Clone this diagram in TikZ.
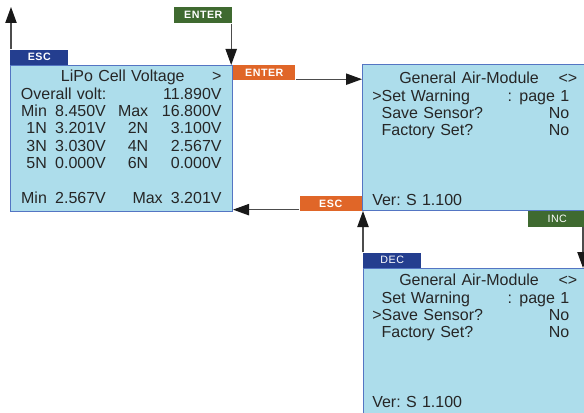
\documentclass[tikz,border=0pt]{standalone}
\usepackage{fontspec}
\setmainfont{Liberation Sans}
\newfontfamily\keyfont[LetterSpace=5]{Liberation Sans}
\usetikzlibrary{positioning,arrows.meta}
\definecolor{lcd}{RGB}{173,221,235}
\definecolor{lcdedge}{RGB}{84,117,195}
\definecolor{keyblue}{RGB}{36,62,143}
\definecolor{keygreen}{RGB}{63,106,48}
\definecolor{keyorange}{RGB}{224,102,40}
\newcommand{\nosel}{\hphantom{>}}
\newcommand{\rpad}{\kern6pt\null}
\newcommand{\cellrow}[4]{\makebox[19.5pt][r]{#1}\hspace{6.2pt}\makebox[46.3pt][l]{#2}\makebox[23.5pt][r]{#3}\hfill#4}

\begin{document}
\begin{tikzpicture}[x=0.75pt,y=-0.75pt]
        \tikzset{screen/.style = {draw=lcdedge, line width=.75pt, fill=lcd, anchor=north west, inner sep=0pt},
                 screentext/.style = {anchor=north west, inner sep=0pt, align=left, text=black!85,
                                      font=\fontsize{12}{13}\selectfont\parindent0pt\frenchspacing},
                 key/.style = {inner sep=0pt, text=white, font=\keyfont\fontsize{8}{9}\selectfont},
                 boldkey/.style = {key, font=\keyfont\bfseries\fontsize{8}{9}\selectfont},
                 arr/.style = {draw=black!70, line width=.8pt, -{Triangle[length=12pt,width=8.5pt,color=black!90]}}}
        \useasboundingbox (0,0) rectangle (584,413);
        \clip (0,0) rectangle (584,413);
        %\draw[help lines, step=10] (0,0) grid (584,413);
        \node[screen, minimum width=166.5pt, minimum height=109.5pt] (lipo) at (10,65) {};
        \node[screen, minimum width=168pt, minimum height=109.5pt] (menu) at (362,64) {};
        \node[screen, minimum width=167.25pt, minimum height=121.5pt] (lower) at (363,268) {};
        \node[screentext, text width=150.5pt, below right=3.8pt and 8pt of lipo.north west] (lipotext) {%
            \hspace*{30pt}LiPo Cell Voltage\hfill>\\
            Overall volt:\hfill 11.890V\\
            \cellrow{Min}{8.450V}{Max}{16.800V}\\
            \cellrow{1N}{3.201V}{2N}{3.100V}\\
            \cellrow{3N}{3.030V}{4N}{2.567V}\\
            \cellrow{5N}{0.000V}{6N}{0.000V}\\[13pt]
            \makebox[19.5pt][r]{Min}\hspace{6.2pt}\makebox[58pt][l]{2.567V}Max\hfill 3.201V};
        \node[screentext, text width=153.75pt, below right=6pt and 7.5pt of menu.north west] (menutext) {%
            \hspace*{20.25pt}General Air-Module\hfill<>\\
            >Set Warning\hfill:\hspace{5.5pt}page 1\rpad\\
            \nosel Save Sensor?\hfill No\rpad\\
            \nosel Factory Set?\hfill No\rpad\\[39pt]
            Ver: S 1.100};
        \node[screentext, text width=153.75pt, below right=4.5pt and 6.75pt of lower.north west] (lowertext) {%
            \hspace*{20.25pt}General Air-Module\hfill<>\\
            \nosel Set Warning\hfill:\hspace{5.5pt}page 1\rpad\\
            >Save Sensor?\hfill No\rpad\\
            \nosel Factory Set?\hfill No\rpad\\[39pt]
            Ver: S 1.100};
        \node[boldkey, fill=keyblue, minimum width=43.5pt, minimum height=11.25pt, above right=0pt of lipo.north west] (escl) {ESC};
        \node[boldkey, fill=keygreen, minimum width=43.5pt, minimum height=12pt, anchor=north west] (enterg) at (174,7) {ENTER};
        \node[boldkey, fill=keyorange, minimum width=46.5pt, minimum height=11.25pt, below right=0pt of lipo.north east] (entero) {ENTER};
        \node[boldkey, fill=keyorange, minimum width=46.5pt, minimum height=11pt, above left=0pt of menu.south west] (esco) {ESC};
        \node[key, fill=keygreen, minimum width=44.25pt, minimum height=11.5pt, below left=0pt of menu.south east] (inc) {INC};
        \node[key, fill=keyblue, minimum width=43.5pt, minimum height=11.25pt, above right=0pt of lower.north west] (dec) {DEC};
        \coordinate (top) at (11,7);
        \coordinate (entx) at ([xshift=-1pt]enterg.south east);
        \coordinate (enty) at ([yshift=1pt]entero.south east);
        \coordinate (escy) at ([yshift=1pt]esco.south west);
        \coordinate (incx) at ([xshift=-3pt]inc.south east);
        \draw[arr] (escl.north west -| top) -- (top);
        \draw[arr] (entx) -- (entx |- lipo.north);
        \draw[arr] (enty) -- (enty -| menu.west);
        \draw[arr] (escy) -- (escy -| lipo.east);
        \draw[arr] (incx) -- (incx |- lower.north);
        \draw[arr] (dec.north west) -- (dec.north west |- menu.south);
    \end{tikzpicture}
\end{document}
